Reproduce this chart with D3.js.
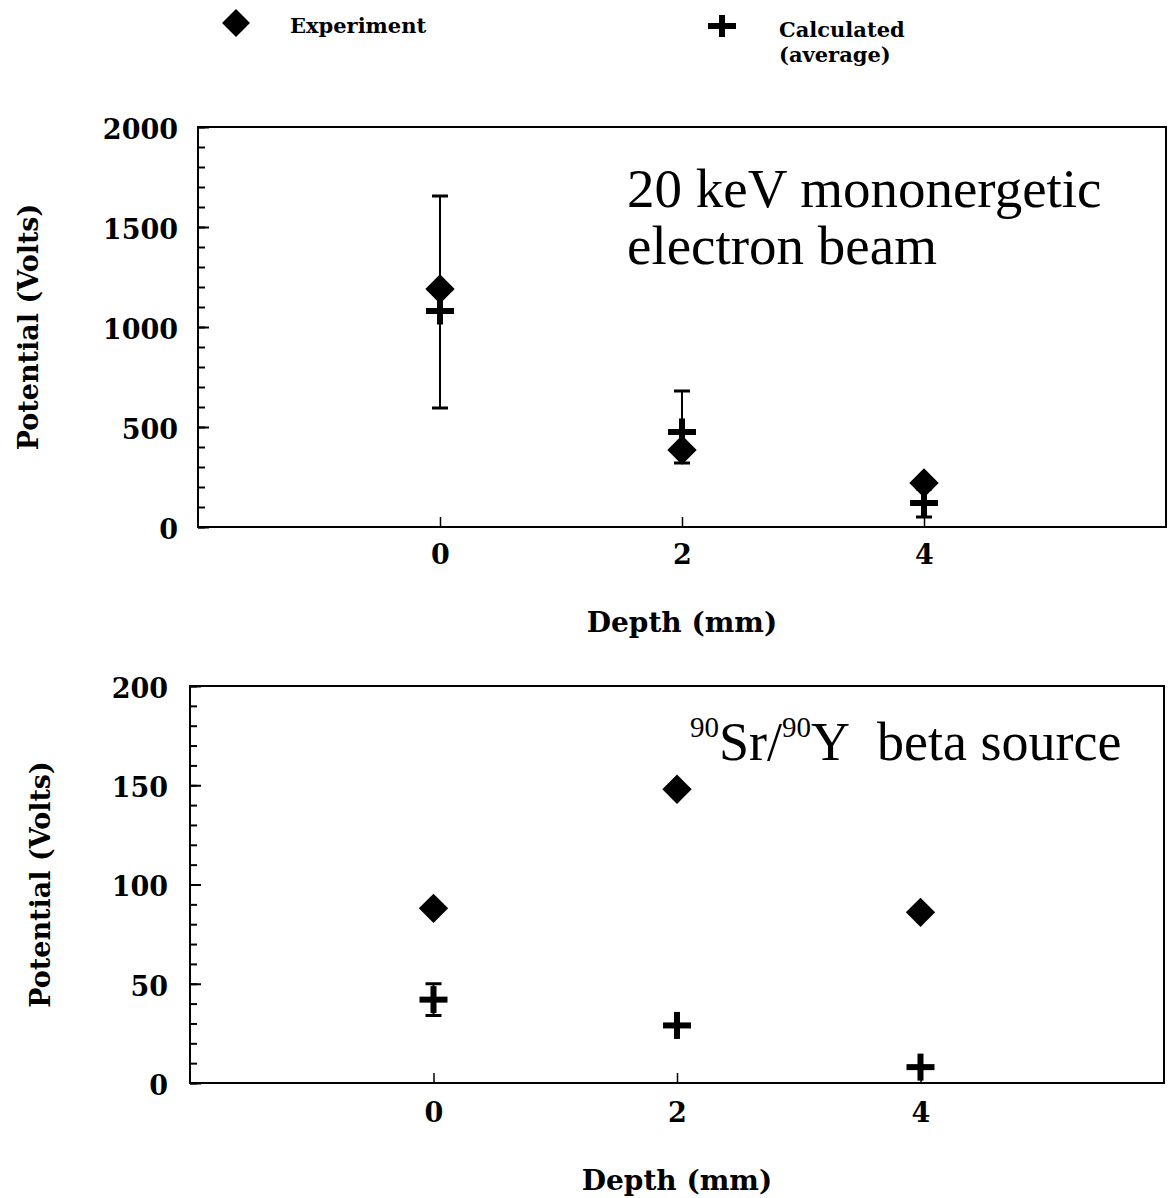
<!DOCTYPE html>
<html>
<head>
<meta charset="UTF-8">
<title>Potential vs depth</title>
<style>
  body { margin: 0; padding: 0; background: #fff; }
  svg { display: block; }
  .lab { font-family: "DejaVu Serif", serif; font-weight: bold; fill: #000; }
  .note { font-family: "Liberation Serif", "Times New Roman", serif; fill: #000; }
</style>
<script src="https://d3js.org/d3.v7.min.js"></script>
</head>
<body>
<script>
// values
const depths = [0, 2, 4];

const expTop = [1190, 385, 220];
const calcTop = [1080, 475, 120];
const calcTopLo = [595, 320, 50];
const calcTopHi = [1655, 680, 190];

const expBot = [88, 148, 86];
const calcBot = [42, 29, 8];
const calcBotLo = [34, null, null];
const calcBotHi = [50, null, null];

const xTicks = [0, 2, 4];
const topYTicks = [0, 500, 1000, 1500, 2000];
const botYTicks = [0, 50, 100, 150, 200];

const width = 1172, height = 1198;

const svg = d3.select("body").append("svg")
    .attr("width", width)
    .attr("height", height);

const diamond = d3.symbol(d3.symbolSquare, 430);

function drawPlus(g, cx, cy, w, h, t) {
    g.append("line").attr("x1", cx - w / 2).attr("x2", cx + w / 2)
        .attr("y1", cy).attr("y2", cy)
        .attr("stroke", "#000").attr("stroke-width", t);
    g.append("line").attr("x1", cx).attr("x2", cx)
        .attr("y1", cy - h / 2).attr("y2", cy + h / 2)
        .attr("stroke", "#000").attr("stroke-width", t);
}

function panel(opt) {
    const x = d3.scaleLinear().domain([-2, 6]).range([opt.left, opt.right]);
    const y = d3.scaleLinear().domain([0, opt.ymax]).range([opt.bottom, opt.top]);
    const g = svg.append("g");

    // minor ticks
    g.append("g")
        .attr("transform", `translate(${opt.left},0)`)
        .call(d3.axisLeft(y).tickValues(d3.range(0, opt.ymax + 1, opt.minor)).tickSize(-7).tickFormat(""))
        .call(a => a.select(".domain").remove())
        .selectAll("line").attr("stroke-width", 2);

    // major ticks + labels
    g.append("g")
        .attr("transform", `translate(${opt.left},0)`)
        .call(d3.axisLeft(y).tickValues(opt.yTicks).tickSize(-11).tickPadding(opt.ypad).tickFormat(d3.format("d")))
        .call(a => a.select(".domain").remove())
        .call(a => a.selectAll("line").attr("stroke-width", 2))
        .selectAll("text").attr("class", "lab").attr("dy", "0.42em").style("font-size", "27px");

    g.append("g")
        .attr("transform", `translate(0,${opt.bottom})`)
        .call(d3.axisBottom(x).tickValues(xTicks).tickSize(-10).tickPadding(opt.xpad))
        .call(a => a.select(".domain").remove())
        .call(a => a.selectAll("line").attr("stroke-width", 1.5))
        .selectAll("text").attr("class", "lab").style("font-size", "27px");

    // frame
    g.append("rect")
        .attr("x", opt.left).attr("y", opt.top)
        .attr("width", opt.right - opt.left).attr("height", opt.bottom - opt.top)
        .attr("fill", "none").attr("stroke", "#000").attr("stroke-width", 2);

    // error bars on calculated average
    depths.forEach((d, i) => {
        if (opt.lo[i] == null) return;
        const cx = x(d);
        g.append("line").attr("x1", cx).attr("x2", cx)
            .attr("y1", y(opt.lo[i])).attr("y2", y(opt.hi[i]))
            .attr("stroke", "#000").attr("stroke-width", 2);
        [opt.lo[i], opt.hi[i]].forEach(v => {
            g.append("line").attr("x1", cx - 8).attr("x2", cx + 8)
                .attr("y1", y(v)).attr("y2", y(v))
                .attr("stroke", "#000").attr("stroke-width", 3);
        });
    });

    // experiment diamonds
    g.selectAll("path.exp")
        .data(depths.map((d, i) => [d, opt.exp[i]]))
        .join("path")
        .attr("class", "exp")
        .attr("d", diamond)
        .attr("transform", p => `translate(${x(p[0])},${y(p[1])}) rotate(45)`)
        .attr("fill", "#000");

    // calculated crosses
    depths.forEach((d, i) => drawPlus(g, x(d), y(opt.calc[i]), 28, 27, 6));

    g.append("text").attr("class", "lab")
        .attr("x", (opt.left + opt.right) / 2).attr("y", opt.xtitleY)
        .attr("text-anchor", "middle").style("font-size", "28px")
        .text("Depth (mm)");

    g.append("text").attr("class", "lab")
        .attr("transform", `translate(${opt.ytitleX},${(opt.top + opt.bottom) / 2}) rotate(-90)`)
        .attr("text-anchor", "middle").style("font-size", "27px")
        .text("Potential (Volts)");

    return g;
}

const gTop = panel({
    left: 198, right: 1166, top: 127, bottom: 527, ymax: 2000, minor: 100,
    yTicks: topYTicks, ypad: 20, xpad: 18, xtitleY: 632, ytitleX: 38,
    exp: expTop, calc: calcTop, lo: calcTopLo, hi: calcTopHi
});

gTop.append("text").attr("class", "note")
    .attr("x", 627).attr("y", 207).style("font-size", "55px")
    .text("20 keV mononergetic");
gTop.append("text").attr("class", "note")
    .attr("x", 627).attr("y", 264).style("font-size", "55px")
    .text("electron beam");

const gBot = panel({
    left: 190, right: 1164, top: 686, bottom: 1083, ymax: 200, minor: 10,
    yTicks: botYTicks, ypad: 22, xpad: 20, xtitleY: 1190, ytitleX: 50,
    exp: expBot, calc: calcBot, lo: calcBotLo, hi: calcBotHi
});

const note = gBot.append("text").attr("class", "note")
    .attr("x", 690).attr("y", 760).style("font-size", "54px");
note.append("tspan").style("font-size", "29px").attr("dy", -23).text("90");
note.append("tspan").attr("dy", 23).text("Sr/");
note.append("tspan").style("font-size", "29px").attr("dy", -23).text("90");
note.append("tspan").attr("dy", 23).text("Y\u00a0 beta source");

// legend
svg.append("path")
    .attr("d", d3.symbol(d3.symbolSquare, 390))
    .attr("transform", "translate(236,23) rotate(45)")
    .attr("fill", "#000");
svg.append("text").attr("class", "lab")
    .attr("x", 290).attr("y", 33).style("font-size", "21px")
    .text("Experiment");

drawPlus(svg, 722, 26, 28, 22, 6);
svg.append("text").attr("class", "lab")
    .attr("x", 779).attr("y", 37).style("font-size", "21px")
    .text("Calculated");
svg.append("text").attr("class", "lab")
    .attr("x", 779).attr("y", 62).style("font-size", "21px")
    .text("(average)");
</script>
</body>
</html>
